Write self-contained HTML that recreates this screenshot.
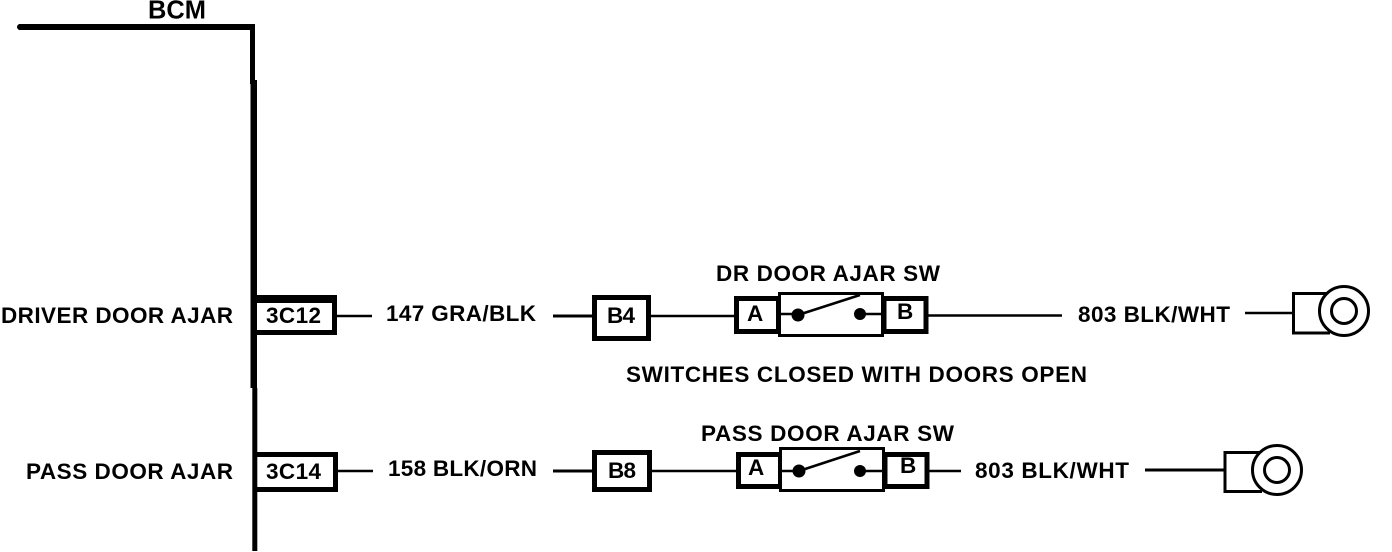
<!DOCTYPE html>
<html>
<head>
<meta charset="utf-8">
<style>
html,body{margin:0;padding:0;background:#fff;width:1392px;height:552px;overflow:hidden}
svg{display:block}
text{font-family:"Liberation Sans",sans-serif;font-size:22.500px;font-weight:bold;fill:#000;stroke:none}
</style>
</head>
<body>
<svg width="1392" height="552" viewBox="0 0 1392 552" xmlns="http://www.w3.org/2000/svg">
<rect width="1392" height="552" fill="#fff"/>
<g fill="#000" stroke="none">
  <!-- BCM boundary -->
  <rect x="19" y="24" width="236" height="6"/>
  <circle cx="20" cy="27" r="3"/>
  <rect x="250" y="24" width="5" height="60"/>
  <rect x="250.500" y="80" width="6.500" height="308"/>
  <rect x="252.300" y="388" width="5" height="163"/>
</g>
<g fill="none" stroke="#000">
  <!-- pin boxes -->
  <path d="M257 295H337V335H257V303H332V330H257" fill="#000" fill-rule="evenodd" stroke="none"/>
  <path d="M257 454.500H335.500V489.500H257" stroke-width="5"/>
  <rect x="594.500" y="297.500" width="54" height="41" stroke-width="5"/>
  <rect x="594.500" y="452.500" width="55" height="37" stroke-width="5"/>
  <!-- wires row 1 -->
  <path d="M337 316H372" stroke-width="2.500"/>
  <path d="M553 316H592" stroke-width="3"/>
  <path d="M651 316H735" stroke-width="2.500"/>
  <path d="M928 315.500H1062" stroke-width="2.500"/>
  <path d="M1245 313H1293" stroke-width="2.500"/>
  <!-- wires row 2 -->
  <path d="M338 471H373" stroke-width="2.500"/>
  <path d="M553 471H592" stroke-width="3"/>
  <path d="M652 471H736" stroke-width="2.500"/>
  <path d="M929 471H961" stroke-width="2.500"/>
  <path d="M1145 470H1224" stroke-width="3"/>
  <!-- switch 1 -->
  <rect x="736.500" y="298.500" width="42" height="33" stroke-width="5"/>
  <rect x="884" y="298.500" width="42" height="33" stroke-width="5"/>
  <rect x="779.500" y="293.500" width="103" height="42" stroke-width="3" fill="#fff"/>
  <path d="M779 314H798M798 315L860 295M860 314H884" stroke-width="2.500"/>
  <!-- switch 2 -->
  <rect x="738.500" y="454.500" width="42" height="32" stroke-width="5"/>
  <rect x="885" y="454.500" width="42" height="32" stroke-width="5"/>
  <rect x="780.500" y="448.500" width="103" height="42" stroke-width="3" fill="#fff"/>
  <path d="M780 471H799M799 471L860 451M860 471H885" stroke-width="2.500"/>
  <!-- ground 1 -->
  <path d="M1330 293.500H1293.500V333H1330" stroke-width="3"/>
  <circle cx="1344" cy="311" r="24.500" stroke-width="3" fill="#fff"/>
  <circle cx="1344" cy="311" r="12.500" stroke-width="3"/>
  <!-- ground 2 -->
  <path d="M1262 452.500H1225V491.500H1262" stroke-width="3"/>
  <circle cx="1277" cy="470" r="24.500" stroke-width="3" fill="#fff"/>
  <circle cx="1277" cy="470" r="12.500" stroke-width="3"/>
</g>
<g fill="#000">
  <circle cx="798" cy="315" r="6.500"/>
  <circle cx="860" cy="314" r="6"/>
  <circle cx="799" cy="471" r="6.500"/>
  <circle cx="860" cy="471" r="6"/>
</g>
<g>
  <text x="148" y="18.500" textLength="58" lengthAdjust="spacingAndGlyphs" style="font-size:26px">BCM</text>
  <text x="1" y="323" textLength="232" lengthAdjust="spacing">DRIVER DOOR AJAR</text>
  <text x="26" y="479" textLength="207" lengthAdjust="spacing">PASS DOOR AJAR</text>
  <text x="266" y="323" textLength="55" lengthAdjust="spacing">3C12</text>
  <text x="266" y="479" textLength="55" lengthAdjust="spacing">3C14</text>
  <text x="386" y="321" textLength="150" lengthAdjust="spacing">147 GRA/BLK</text>
  <text x="388" y="476" textLength="149" lengthAdjust="spacing">158 BLK/ORN</text>
  <text x="607" y="323" textLength="28" lengthAdjust="spacing">B4</text>
  <text x="608" y="478" textLength="28" lengthAdjust="spacing">B8</text>
  <text x="747" y="321">A</text>
  <text x="897" y="319">B</text>
  <text x="748" y="475">A</text>
  <text x="900" y="473">B</text>
  <text x="716" y="281" textLength="224" lengthAdjust="spacing">DR DOOR AJAR SW</text>
  <text x="701" y="441" textLength="253" lengthAdjust="spacing">PASS DOOR AJAR SW</text>
  <text x="626" y="382" textLength="461" lengthAdjust="spacing">SWITCHES CLOSED WITH DOORS OPEN</text>
  <text x="1078" y="322" textLength="152" lengthAdjust="spacing">803 BLK/WHT</text>
  <text x="975" y="478" textLength="154" lengthAdjust="spacing">803 BLK/WHT</text>
</g>
</svg>
</body>
</html>
